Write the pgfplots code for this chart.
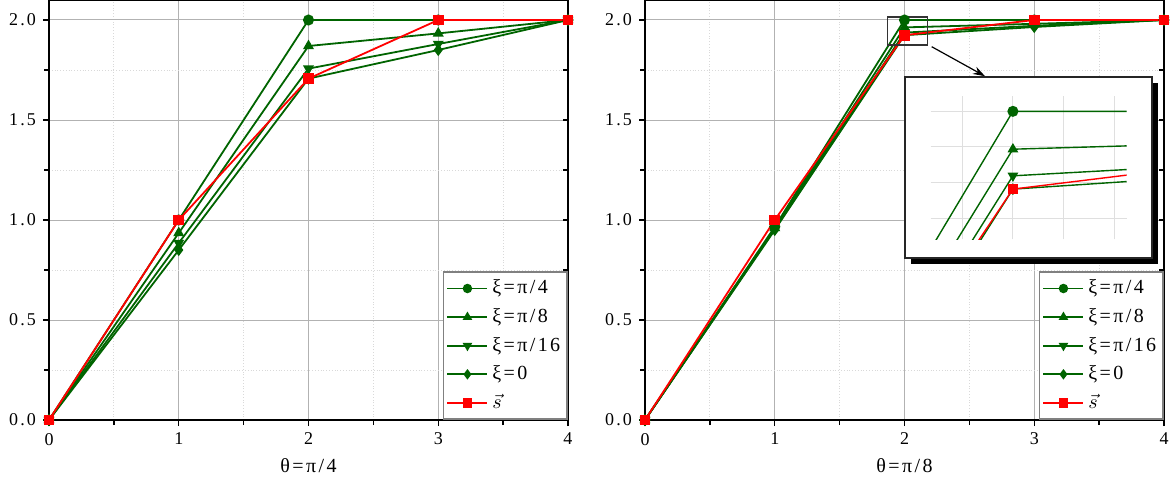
\documentclass[border=0pt]{standalone}
\usepackage{fontspec}
\setmainfont{Liberation Serif}[LetterSpace=12]
\usepackage{pgfplots}
\pgfplotsset{compat=1.18}
\usetikzlibrary{arrows.meta}
\definecolor{dg}{RGB}{0,100,0}
\definecolor{rr}{RGB}{255,0,0}

% theta = pi/4
\pgfplotstableread{
x  p4  p8    p16   z     s
0  0   0     0     0     0
1  1   0.935 0.885 0.850 1
2  2   1.870 1.757 1.707 1.707
3  2   1.933 1.880 1.850 2
4  2   2     2     2     2
}\dataA
% theta = pi/8
\pgfplotstableread{
x  p4    p8    p16   z     s
0  0     0     0     0     0
1  0.966 0.960 0.955 0.950 1
2  2     1.963 1.937 1.924 1.924
3  2     1.981 1.971 1.965 2
4  2     2     2     2     2
}\dataB

\pgfplotsset{
  mainax/.style={
    scale only axis, width=259.5pt, height=210pt,
    xmin=0, xmax=4, ymin=0, ymax=2.1,
    xtick={0,1,2,3,4}, ytick={0,0.5,1,1.5,2},
    minor x tick num=1, minor y tick num=1,
    xtick pos=bottom, ytick pos=left,
    tick align=outside,
    major tick length=3pt, minor tick length=2.5pt,
    every tick/.style={black, line width=0.7pt},
    axis line style={black, line width=0.8pt},
    grid=both,
    major grid style={gray!60, line width=0.5pt},
    minor grid style={gray!30, densely dotted, line width=0.5pt},
    /pgf/number format/assume math mode=true,
    ticklabel style={font=\fontsize{9}{10}\selectfont},
    yticklabel style={/pgf/number format/fixed, /pgf/number format/fixed zerofill,
      /pgf/number format/precision=1},
    label style={font=\fontsize{10}{11}\selectfont},
    xlabel style={at={(axis description cs:0.5,0)}, anchor=center, yshift=-23pt},
    legend cell align=left,
    legend style={at={(1,0)}, anchor=south east, draw=gray, line width=0.8pt,
      font=\fontsize{10}{11}\selectfont, inner xsep=1.5pt, inner ysep=1pt,
      row sep=0pt, nodes={inner ysep=2pt, text height=7.8pt, text depth=2.5pt}},
    legend image code/.code={\draw[mark repeat=2,mark phase=2]
      plot coordinates {(0pt,0pt) (10pt,0pt) (20pt,0pt)};},
    legend image post style={mark size=1.9pt},
  },
  gl/.style={dg, line width=0.9pt, mark size=2.3pt, mark options={solid, fill=dg}},
  rl/.style={rr, line width=0.9pt, mark size=2.2pt, mark options={solid, fill=rr}},
}
\newcommand{\rticks}{\pgfplotsinvokeforeach{0.25,0.5,0.75,1,1.25,1.5,1.75,2}{
  \draw[black, line width=0.7pt] (axis cs:4,##1) -- ++(-2.5pt,0);}}

\begin{document}
\begin{tikzpicture}
\useasboundingbox (-24.5pt,-31.5pt) rectangle (562.5pt,210pt);

\begin{axis}[mainax, at={(0,0)}, anchor=south west, xlabel={θ=π/4}]
  \addplot[gl, mark=*] table[x=x, y=p4] {\dataA};
  \addplot[gl, mark=triangle*] table[x=x, y=p8] {\dataA};
  \addplot[gl, mark=triangle*, mark options={rotate=180}] table[x=x, y=p16] {\dataA};
  \addplot[gl, mark=diamond*] table[x=x, y=z] {\dataA};
  \addplot[rl, mark=square*] table[x=x, y=s] {\dataA};
  \legend{ξ=π/4, ξ=π/8, ξ=π/16, ξ=0, $\vec{s}$}
  \rticks
\end{axis}

\begin{axis}[mainax, at={(298pt,0)}, anchor=south west, xlabel={θ=π/8}]
  \addplot[gl, mark=*] table[x=x, y=p4] {\dataB};
  \addplot[gl, mark=triangle*] table[x=x, y=p8] {\dataB};
  \addplot[gl, mark=triangle*, mark options={rotate=180}] table[x=x, y=p16] {\dataB};
  \addplot[gl, mark=diamond*] table[x=x, y=z] {\dataB};
  \addplot[rl, mark=square*] table[x=x, y=s] {\dataB};
  \legend{ξ=π/4, ξ=π/8, ξ=π/16, ξ=0, $\vec{s}$}
  \rticks
  \draw[black!80, line width=0.6pt] (axis cs:1.87,1.875) rectangle (axis cs:2.18,2.015);
\end{axis}

% inset frame with shadow
\fill[black] (431pt,78pt) rectangle (554.5pt,168.5pt);
\filldraw[fill=white, draw=black!85, line width=0.7pt] (428pt,81pt) rectangle (551.5pt,171.5pt);
\draw[black, line width=0.6pt, -{Stealth[length=6pt,width=4pt]}] (441.35pt,186.65pt) -- (468pt,171.9pt);

\begin{axis}[scale only axis, at={(440.85pt,90.35pt)}, anchor=south west,
    width=98pt, height=71.65pt,
    xmin=1.87, xmax=2.18, ymin=1.875, ymax=2.015,
    xtick={1.92,2.0,2.08,2.16}, ytick={1.8955,1.93,1.9655,2.0},
    xticklabels={}, yticklabels={}, major tick length=0pt,
    axis line style={draw=none}, grid=major,
    major grid style={gray!25, line width=0.5pt}]
  \addplot[gl, line width=0.7pt, mark size=2.4pt, mark=*] table[x=x, y=p4] {\dataB};
  \addplot[gl, line width=0.7pt, mark size=2.4pt, mark=triangle*] table[x=x, y=p8] {\dataB};
  \addplot[gl, line width=0.7pt, mark size=2.4pt, mark=triangle*, mark options={rotate=180}] table[x=x, y=p16] {\dataB};
  \addplot[gl, line width=0.7pt, mark size=2.4pt, mark=diamond*] table[x=x, y=z] {\dataB};
  \addplot[rl, line width=0.7pt, mark size=2.2pt, mark=square*] table[x=x, y=s] {\dataB};
\end{axis}
\end{tikzpicture}
\end{document}
